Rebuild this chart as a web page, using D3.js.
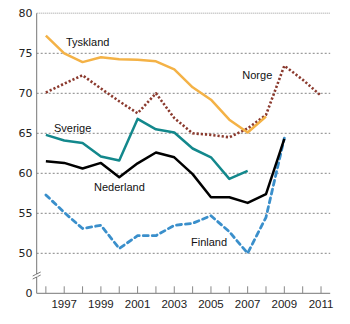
<!DOCTYPE html>
<html><head><meta charset="utf-8">
<script src="https://cdn.jsdelivr.net/npm/d3@7"></script>
<style>body{margin:0;background:#fff}svg{display:block}</style>
</head><body><svg id="c" width="350" height="324"></svg>
<script>
const years = d3.range(1996, 2012);
const tyskland = [77.2, 75.0, 73.9, 74.5, 74.25, 74.2, 74.0, 73.0, 70.75, 69.2, 66.7, 65.1, 67.1];
const norge = [70.1, 71.2, 72.25, 70.6, 69.0, 67.5, 70.0, 66.9, 65.0, 64.8, 64.5, 65.6, 67.3, 73.45, 71.7, 69.7];
const sverige = [64.8, 64.1, 63.8, 62.1, 61.6, 66.8, 65.5, 65.1, 63.1, 62.0, 59.3, 60.3];
const nederland = [61.5, 61.3, 60.6, 61.3, 59.5, 61.25, 62.6, 62.0, 59.9, 57.0, 57.0, 56.3, 57.4, 64.3];
const finland = [57.3, 55.1, 53.1, 53.5, 50.6, 52.2, 52.2, 53.5, 53.75, 54.7, 52.7, 50.0, 54.5, 64.4];
const yTicks = [50, 55, 60, 65, 70, 75, 80];
const xTickLabels = [1997, 1999, 2001, 2003, 2005, 2007, 2009, 2011];

const svg = d3.select("#c");
const x = d3.scaleLinear().domain([1995.5, 2011.5]).range([36.7, 330.2]);
const y = d3.scaleLinear().domain([50, 80]).range([253.3, 13.3]);
const y0 = y(45); // baseline representing 0 (broken axis)

// gridlines
yTicks.forEach(v => {
  svg.append("line").attr("x1", x(1995.5)).attr("x2", x(2011.5)).attr("y1", y(v)).attr("y2", y(v))
    .attr("stroke", v === 80 ? "#bbb" : "#666")
    .attr("stroke-width", v === 80 ? 1.5 : 0.8)
    .attr("stroke-dasharray", v === 80 ? "1,1" : "2,2");
});

// y axis
svg.append("line").attr("x1", x(1995.5)).attr("x2", x(1995.5)).attr("y1", y(80)).attr("y2", y0)
  .attr("stroke", "#777").attr("stroke-width", 1);
// axis break marks
[0, 3].forEach(o => {
  svg.append("line").attr("x1", x(1995.5) - 4).attr("x2", x(1995.5) + 4)
    .attr("y1", 279 - o).attr("y2", 275 - o).attr("stroke", "#555").attr("stroke-width", 0.8);
});
svg.append("rect").attr("x", x(1995.5) - 1).attr("y", 274.5).attr("width", 2).attr("height", 2.2).attr("fill", "#fff");

// y labels
const yLab = yTicks.concat([45]);
svg.selectAll(".yl").data(yLab).enter().append("text")
  .attr("x", 32.5).attr("y", d => y(d)).attr("dy", "0.36em")
  .attr("text-anchor", "end").attr("font-family", "DejaVu Sans, sans-serif").attr("font-size", 11)
  .attr("fill", "#222").text(d => d === 45 ? "0" : d);

// x axis
svg.append("line").attr("x1", x(1995.5)).attr("x2", x(2011.5)).attr("y1", y0).attr("y2", y0)
  .attr("stroke", "#777").attr("stroke-width", 1);
svg.selectAll(".xt").data(years).enter().append("line")
  .attr("x1", d => x(d)).attr("x2", d => x(d)).attr("y1", y0).attr("y2", y0 - 7)
  .attr("stroke", "#888").attr("stroke-width", 1);
svg.selectAll(".xl").data(xTickLabels).enter().append("text")
  .attr("x", d => x(d)).attr("y", 308).attr("text-anchor", "middle")
  .attr("font-family", "Liberation Sans Narrow, Arial Narrow, sans-serif").attr("font-size", 11.5)
  .attr("fill", "#222").text(d => d);

const line = d3.line().x((d, i) => x(1996 + i)).y(d => y(d));
const series = [
  {data: finland, color: "#3a8fcb", w: 2.8, dash: "5,4", cap: "round"},
  {data: norge, color: "#8b3a2e", w: 2.6, dash: "2.2,2", cap: "butt"},
  {data: tyskland, color: "#f4b246", w: 2.5, dash: null, cap: "butt"},
  {data: sverige, color: "#13888c", w: 2.5, dash: null, cap: "butt"},
  {data: nederland, color: "#000", w: 2.5, dash: null, cap: "butt"}
];
series.forEach(s => {
  svg.append("path").attr("d", line(s.data)).attr("fill", "none")
    .attr("stroke", s.color).attr("stroke-width", s.w)
    .attr("stroke-dasharray", s.dash).attr("stroke-linecap", s.cap).attr("stroke-linejoin", "round");
});

const labels = [
  {t: "Tyskland", x: 66, y: 41.7},
  {t: "Norge", x: 242.3, y: 75},
  {t: "Sverige", x: 54, y: 128.3},
  {t: "Nederland", x: 94, y: 186.7},
  {t: "Finland", x: 191, y: 242.3}
];
svg.selectAll(".lab").data(labels).enter().append("text")
  .attr("x", d => d.x).attr("y", d => d.y).attr("dy", "0.36em")
  .attr("font-family", "Liberation Sans, Arial, sans-serif").attr("font-size", 11)
  .attr("fill", "#111").text(d => d.t);
</script></body></html>
